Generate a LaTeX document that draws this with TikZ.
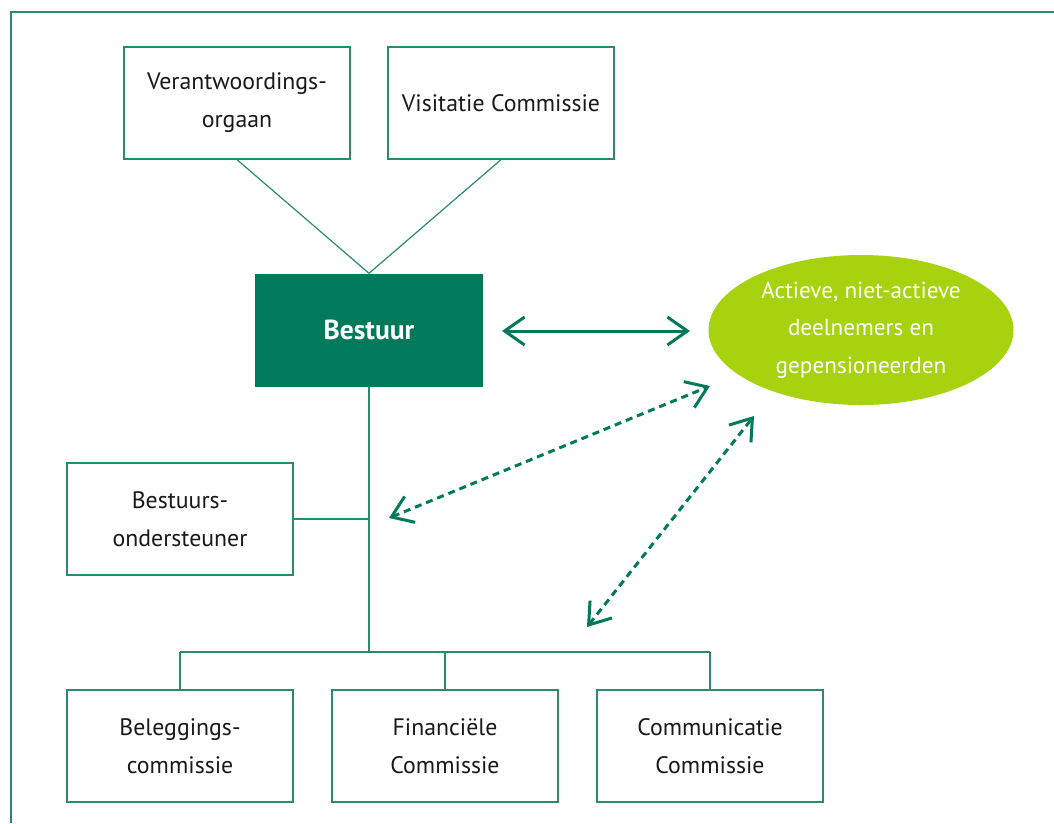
\documentclass[tikz,border=0pt]{standalone}
\usepackage{fontspec}
\setmainfont{PT Sans}
\usetikzlibrary{arrows.meta,shapes.geometric}
\definecolor{pgreen}{RGB}{0,122,90}
\definecolor{pline}{RGB}{40,140,105}
\definecolor{plime}{RGB}{166,210,14}
\definecolor{ptext}{RGB}{25,25,25}
\tikzset{
  orgbox/.style={draw=pline, line width=1.3pt, fill=white, minimum width=226pt, minimum height=112pt,
    align=center, text=ptext, font=\fontsize{23.8}{38}\selectfont, inner sep=0pt},
  link/.style={draw=pline, line width=1.2pt},
  twoway/.style={draw=pgreen, line width=3pt,
    {Straight Barb[length=20pt,width=28pt,line width=3pt]}-{Straight Barb[length=20pt,width=28pt,line width=3pt]}},
  dashway/.style={twoway, dash pattern=on 7pt off 5pt}
}
\begin{document}
\begin{tikzpicture}[x=1pt,y=-1pt]
\useasboundingbox (0,0) rectangle (1054,823);
% open frame on the left and top
\draw[draw=pline, line width=2pt] (11,823) -- (11,12) -- (1054,12);

% top row
\node[orgbox] (vo) at (237,103) {Verantwoordings-\\orgaan};
\node[orgbox] (vc) at (501,103) {Visitatie Commissie};

% board
\node[fill=pgreen, minimum width=228pt, minimum height=113pt, inner sep=0pt,
  text=white, font=\fontsize{27.5}{30}\selectfont\bfseries] (bs) at (369,330) {Bestuur};

% participants
\node[ellipse, fill=plime, minimum width=305pt, minimum height=150pt, inner sep=0pt,
  align=center, text=white, font=\fontsize{23.2}{37.5}\selectfont] (dn) at (861,330)
  {Actieve, niet-actieve\\deelnemers en\\gepensioneerden};

% support and committees
\node[orgbox] (bo) at (180,519) {Bestuurs-\\ondersteuner};
\node[orgbox] (bc) at (180,746) {Beleggings-\\commissie};
\node[orgbox] (fc) at (445,746) {Financiële\\Commissie};
\node[orgbox] (cc) at (710,746) {Communicatie\\Commissie};

% hierarchy lines
\coordinate (top) at (bs.north);
\draw[link] (vo.south) -- (top);
\draw[link] (vc.south) -- (top);
\coordinate (j1) at (369,519);
\coordinate (j2) at (369,652);
\coordinate (jb) at (180,652);
\coordinate (jf) at (445,652);
\coordinate (jc) at (710,652);
\draw[link] (bs.south) -- (j2);
\draw[link] (bo.east) -- (j1);
\draw[link] (jb) -- (jc);
\draw[link] (jb) -- (bc.north);
\draw[link] (jf) -- (fc.north);
\draw[link] (jc) -- (cc.north);

% communication arrows
\coordinate (a1) at (502,331);
\coordinate (a2) at (690,331);
\draw[twoway] (a1) -- (a2);
\coordinate (d1) at (389,518);
\coordinate (d2) at (710,386);
\draw[dashway] (d1) -- (d2);
\coordinate (e1) at (587,627);
\coordinate (e2) at (754,416);
\draw[dashway] (e1) -- (e2);
\end{tikzpicture}
\end{document}
